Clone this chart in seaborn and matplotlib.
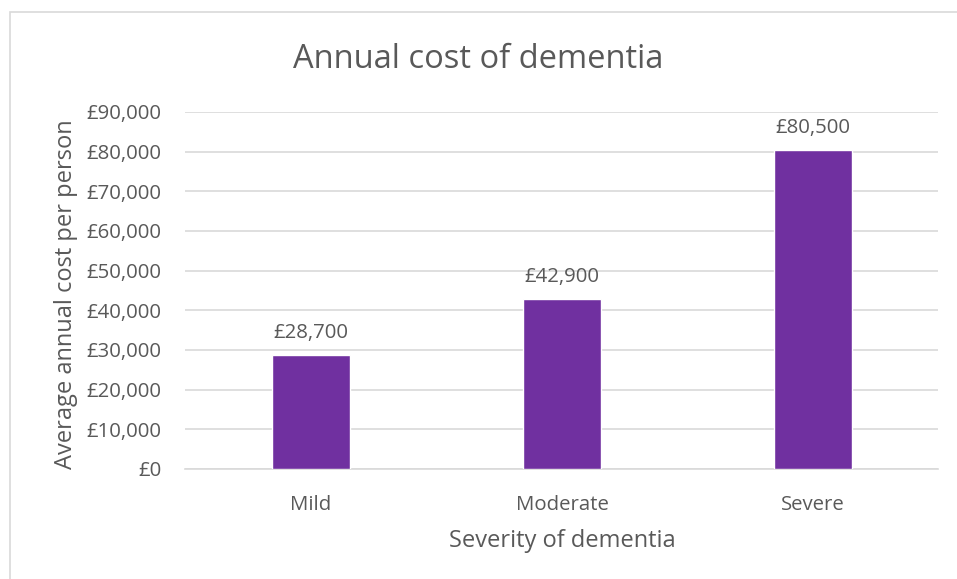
import matplotlib
matplotlib.use("Agg")
import matplotlib.pyplot as plt
import matplotlib.ticker as mticker
from matplotlib.patches import Rectangle
import seaborn as sns
import pandas as pd

categories = ["Mild", "Moderate", "Severe"]
costs = [28700, 42900, 80500]
value_labels = ["£28,700", "£42,900", "£80,500"]

sns.set_theme(style="white")
plt.rcParams["font.family"] = ["Open Sans", "DejaVu Sans"]

text_color = "#595959"
grid_color = "#D9D9D9"
bar_color = "#7030A0"

df = pd.DataFrame({"severity": categories, "cost": costs})

fig = plt.figure(figsize=(9.57, 5.79), dpi=100)
ax = fig.add_axes([0.1938, 0.19, 0.7868, 0.6166])

sns.barplot(data=df, x="severity", y="cost", color=bar_color, width=0.31,
            saturation=1, ax=ax, zorder=3)

ax.set_ylim(0, 90000)
ax.yaxis.set_major_locator(mticker.MultipleLocator(10000))
ax.yaxis.set_major_formatter(mticker.FuncFormatter(lambda v, p: f"£{int(v):,}"))
ax.grid(axis="y", color=grid_color, linewidth=1.2, zorder=0)
ax.set_xlim(-0.5, 2.5)
for s in ["top", "right", "left"]:
    ax.spines[s].set_visible(False)
ax.spines["bottom"].set_color(grid_color)
ax.spines["bottom"].set_linewidth(1.2)
ax.tick_params(axis="both", length=0, colors=text_color, labelsize=14.7)
ax.tick_params(axis="y", pad=17)
ax.tick_params(axis="x", pad=18.5)

for i, (v, lab) in enumerate(zip(costs, value_labels)):
    ax.annotate(lab, xy=(i, v), xytext=(0, 12), textcoords="offset points",
                ha="center", va="baseline", fontsize=14.7, color=text_color)

ax.set_xlabel("Severity of dementia", fontsize=17, color=text_color)
ax.set_ylabel("Average annual cost per person", fontsize=17, color=text_color)
ax.xaxis.set_label_coords(0.5, -0.169)
ax.yaxis.set_label_coords(-0.143, 0.49)
fig.text(0.5, 0.8826, "Annual cost of dementia", ha="center", va="baseline",
         fontsize=23.5, color=text_color)

fig.patches.append(Rectangle((10 / 957, -0.1), 1.2, 1.1 - 12 / 579, transform=fig.transFigure,
                             fill=False, edgecolor=grid_color, linewidth=1.2))

fig.savefig("out.png", dpi=100, facecolor="white")
